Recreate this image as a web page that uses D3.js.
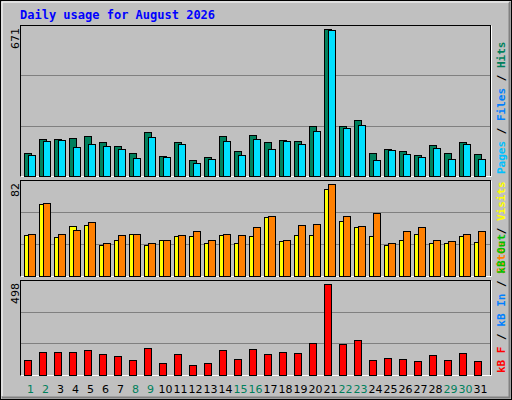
<!DOCTYPE html>
<meta charset="utf-8">
<html>
<head><style>body{margin:0;background:#fff}</style></head>
<body>
<script src="https://d3js.org/d3.v7.min.js"></script>
<div id="chart"></div>
<script>
// daily values
var days = d3.range(1, 32);
var weekend = [1, 2, 8, 9, 15, 16, 22, 23, 29, 30];
var hits  = [102,165,165,170,179,152,134,102,197,88,152,70,83,179,111,184,152,161,156,225,671,225,252,102,120,111,93,138,102,152,97];
var files = [93,156,161,129,143,134,120,79,175,83,143,56,74,156,93,165,120,156,143,202,662,216,229,70,115,97,83,124,74,143,74];
var visits = [36,64,34,44,45,27,32,37,27,32,35,35,29,36,29,35,52,31,36,36,77,49,43,35,27,32,37,29,29,35,30];
var sites  = [37,65,37,41,48,29,36,37,29,32,36,40,32,37,36,43,53,32,45,46,82,53,44,56,29,40,43,32,31,37,40];
var kbytes = [78,122,122,122,133,111,100,78,144,62,111,51,62,133,84,138,111,122,116,171,498,165,187,78,89,84,73,105,78,116,73];

var W = 512, H = 400;
var svg = d3.select("#chart").append("svg").attr("width", W).attr("height", H);

// frame
svg.append("rect").attr("x", 0.5).attr("y", 0.5).attr("width", W - 1).attr("height", H - 1)
  .attr("fill", "#c0c0c0").attr("stroke", "#000");
svg.append("path").attr("d", "M2,397.5H509.5V2").attr("fill", "none").attr("stroke", "#808080").attr("stroke-width", 2);
svg.append("path").attr("d", "M2,396V2H509").attr("fill", "none").attr("stroke", "#fff");

svg.append("text").attr("x", 20).attr("y", 19)
  .style("font-family", "'DejaVu Sans Mono', monospace").style("font-weight", "bold")
  .style("font-size", "12px").attr("fill", "#0000ff")
  .text("Daily usage for August 2026");

var x = d3.scaleBand().domain(days).range([22, 487]).paddingInner(0.24).paddingOuter(0.12);

function panel(top, bottom, max, label, series, colors, offsets, legend) {
  svg.append("rect").attr("x", 20.5).attr("y", top + 0.5).attr("width", 470).attr("height", bottom - top)
    .attr("fill", "#c0c0c0").attr("stroke", "#000");
  svg.append("path").attr("d", "M20.5," + (bottom + 0.5) + "H491.5V" + (top + 0.5))
    .attr("fill", "none").attr("stroke", "#fff");
  var h = bottom - top;
  [1 / 3, 2 / 3].forEach(function(f) {
    svg.append("line").attr("x1", 21).attr("x2", 490)
      .attr("y1", Math.round(bottom - h * f) + 0.5).attr("y2", Math.round(bottom - h * f) + 0.5)
      .attr("stroke", "#808080");
  });
  var y = d3.scaleLinear().domain([0, max]).range([bottom - 0.5, top + 3.5]);
  var bw = series.length > 1 ? 7 : 7;
  series.forEach(function(vals, k) {
    svg.append("g").selectAll("rect").data(vals).enter().append("rect")
      .attr("x", function(d, i) { return Math.round(x(days[i]) + offsets[k]) + 0.5; })
      .attr("y", function(d) { return Math.round(y(d)) + 0.5; })
      .attr("width", bw)
      .attr("height", function(d) { return bottom - Math.round(y(d)); })
      .attr("fill", colors[k]).attr("stroke", "#000");
  });
  svg.append("text").attr("transform", "translate(19," + (top + 3) + ") rotate(-90)")
    .attr("text-anchor", "end").style("font-family", "'DejaVu Sans', sans-serif").style("font-size", "11px")
    .attr("fill", "#000").text(label);
  var t = svg.append("text").attr("transform", "translate(505," + (bottom - 2) + ") rotate(-90)")
    .style("font-family", "'DejaVu Sans Mono', monospace").style("font-size", "11px").style("font-weight", "bold");
  legend.forEach(function(l, i) {
    if (i > 0) t.append("tspan").attr("fill", "#000").text(" / ");
    t.append("tspan").attr("fill", l[1]).text(l[0]);
  });
}

panel(25, 176, 671, "671", [hits, files], ["#00805c", "#00e0ff"], [0, 4],
  [["Pages", "#00c0ff"], ["Files", "#0080ff"], ["Hits", "#00805c"]]);
panel(180, 276, 82, "82", [visits, sites], ["#ffff00", "#ff8000"], [0, 4],
  [["Sites", "#ff8000"], ["Visits", "#ffff00"]]);
panel(280, 375, 498, "498", [kbytes], ["#ff0000"], [0],
  [["kB F", "#ff0000"], ["kB In", "#0080ff"], ["kB Out", "#00c000"]]);

svg.append("g").selectAll("text").data(days).enter().append("text")
  .attr("x", function(d) { return x(d) + x.bandwidth() / 2 + 1; })
  .attr("y", 393).attr("text-anchor", "middle")
  .style("font-family", "'DejaVu Sans', sans-serif").style("font-size", "11px")
  .attr("fill", function(d) { return weekend.indexOf(d) >= 0 ? "#00805c" : "#000"; })
  .text(function(d) { return d; });
</script>
</body>
</html>
